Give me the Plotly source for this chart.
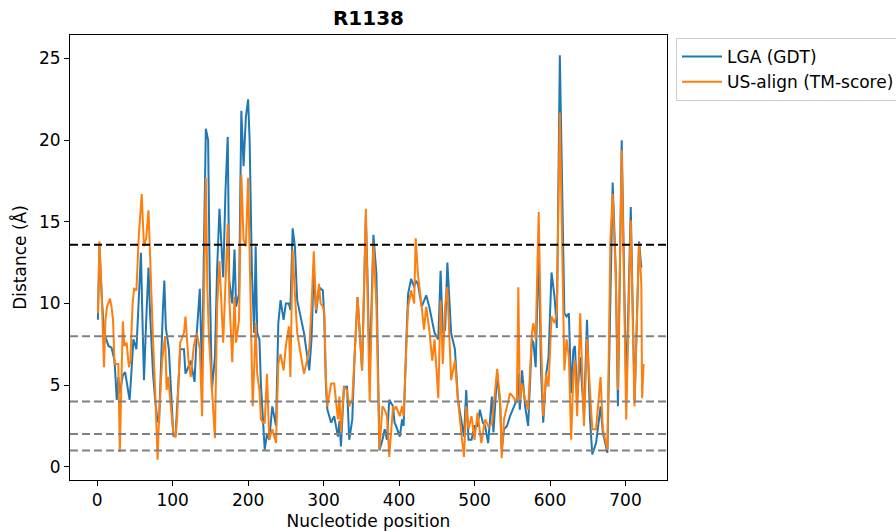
import plotly.graph_objects as go

title_text = "R1138"
x_label = "Nucleotide position"
y_label = "Distance (Å)"
lga_name = "LGA (GDT)"
us_name = "US-align (TM-score)"

lga_pos = [1, 3, 6, 9, 12, 15, 19, 23, 26, 28, 30, 34, 37, 40, 43, 45, 48, 52, 55, 58, 60, 62, 65, 68, 70, 74, 77, 80, 82, 84, 87, 89, 91, 95, 98,
           101, 104, 106, 110, 115, 117, 119, 124, 129, 132, 136, 139, 141, 144, 147, 149, 152, 156, 159, 162, 167, 170, 173, 175, 179, 182, 184, 188, 191, 194, 197, 200,
           202, 205, 208, 210, 212, 215, 217, 220, 222, 225, 228, 232, 237, 240, 243, 247, 250, 254, 256, 259, 262, 265, 270, 274, 281, 284, 287, 290, 294, 299,
           301, 303, 305, 310, 314, 319, 321, 323, 327, 331, 334, 338, 341, 345, 351, 356, 358, 361, 363, 366, 370, 374, 378, 381, 384, 387, 392, 394, 396,
           401, 404, 406, 410, 412, 416, 420, 422, 425, 430, 433, 436, 440, 444, 447, 452, 455, 458, 461, 464, 469, 474, 478, 483, 486, 489, 492, 496,
           500, 504, 507, 511, 514, 518, 523, 525, 530, 534, 536, 539, 543, 547, 551, 556, 558, 560, 563, 567, 571, 576, 578, 581, 585, 588, 591, 595, 598,
           602, 606, 609, 613, 616, 619, 622, 625, 628, 631, 633, 636, 640, 645, 649, 653, 656, 661, 667, 670, 676, 680, 683, 687, 690, 695,
           701, 707, 712, 718, 721]
lga_dist = [9.0, 13.5, 10.5, 8.2, 7.8, 7.4, 7.3, 6.5, 4.1, 5.5, 4.5, 5.6, 5.8, 4.8, 4.1, 5.5, 7.8, 7.2, 10.5, 13.1, 9.0, 5.3, 9.0, 12.2, 9.5, 5.7, 4.0, 2.8, 2.7, 6.0, 9.5, 11.4, 8.5, 7.2, 4.0,
            1.85, 2.0, 4.0, 7.2, 7.2, 5.7, 5.9, 6.5, 5.2, 8.2, 10.9, 5.5, 12.0, 20.7, 20.0, 12.0, 4.7, 6.7, 12.2, 15.8, 11.6, 16.9, 20.2, 11.4, 10.0, 13.3, 9.8, 10.6, 21.8, 18.4, 21.4, 22.5,
            20.0, 12.0, 8.2, 13.5, 8.2, 7.8, 5.0, 2.5, 1.05, 2.0, 1.65, 3.7, 2.5, 8.8, 10.2, 9.0, 10.0, 10.0, 9.6, 14.6, 13.5, 10.2, 9.2, 8.2, 5.9, 7.8, 12.2, 9.4, 11.0, 10.8,
            9.0, 5.0, 3.5, 2.7, 3.1, 1.85, 2.8, 1.25, 4.9, 4.9, 1.65, 2.9, 6.7, 10.4, 5.9, 15.3, 12.0, 5.7, 9.0, 14.2, 11.8, 1.0, 1.65, 2.3, 1.65, 4.1, 3.7, 2.7, 2.5,
            1.85, 2.9, 2.5, 8.2, 10.6, 11.5, 11.0, 11.4, 11.2, 9.8, 10.2, 10.5, 9.8, 8.8, 8.2, 7.8, 12.0, 8.2, 8.4, 12.5, 8.2, 7.2, 4.1, 2.7, 1.85, 4.7, 1.65, 1.65,
            2.5, 2.5, 3.5, 2.7, 2.5, 1.45, 4.3, 2.1, 5.7, 3.7, 1.04, 2.3, 2.5, 3.1, 3.5, 4.1, 5.7, 3.5, 5.9, 3.7, 2.5, 7.8, 7.6, 6.1, 13.5, 6.0, 2.7, 5.7, 6.7,
            11.9, 10.4, 8.5, 25.2, 17.9, 9.4, 9.2, 9.4, 4.5, 7.2, 7.4, 4.3, 6.7, 3.1, 9.0, 2.9, 0.75, 1.45, 3.7, 2.1, 0.85, 11.8, 17.4, 12.2, 3.7, 20.0,
            4.5, 15.9, 3.9, 13.8, 12.2]

us_pos = [1, 3, 6, 9, 11, 13, 17, 19, 21, 23, 28, 30, 34, 36, 39, 42, 44, 47, 49, 52, 55, 59, 62, 65, 68, 71, 74, 77, 80, 82, 86, 90, 92, 94, 99,
          101, 104, 106, 110, 115, 117, 119, 121, 124, 128, 132, 136, 139, 141, 144, 146, 148, 152, 156, 159, 162, 167, 170, 173, 175, 179, 182, 184, 188, 191, 194, 197, 200,
          202, 206, 208, 210, 212, 215, 217, 220, 222, 225, 228, 232, 237, 240, 243, 247, 250, 254, 256, 259, 262, 265, 270, 274, 278, 281, 284, 287, 290, 292, 294, 296, 299,
          301, 303, 305, 310, 314, 319, 321, 323, 327, 331, 334, 338, 341, 345, 351, 356, 361, 363, 366, 370, 374, 378, 381, 384, 387, 392, 394, 396,
          401, 404, 406, 410, 412, 416, 420, 422, 425, 430, 433, 436, 440, 444, 447, 452, 455, 458, 461, 464, 469, 474, 478, 483, 486, 489, 492, 496,
          500, 504, 507, 509, 514, 518, 523, 525, 530, 534, 536, 539, 543, 547, 551, 556, 558, 560, 563, 567, 571, 576, 578, 581, 585, 588, 591, 595, 598,
          602, 606, 609, 613, 616, 619, 622, 625, 628, 631, 633, 636, 640, 645, 649, 653, 656, 661, 667, 670, 676, 680, 683, 687, 690, 695,
          701, 707, 712, 718, 721, 722, 724]
us_dist = [9.4, 13.8, 10.5, 6.1, 9.0, 9.8, 10.3, 9.8, 9.0, 6.3, 6.3, 0.9, 8.9, 7.4, 7.6, 6.1, 6.5, 10.0, 10.9, 10.8, 14.0, 16.7, 13.5, 14.0, 15.7, 11.0, 7.8, 4.5, 0.43, 3.0, 6.5, 8.0, 4.7, 5.5, 2.7,
           2.0, 1.8, 3.1, 7.6, 8.2, 9.2, 7.8, 6.5, 5.5, 7.4, 8.2, 7.2, 3.1, 9.0, 17.7, 11.0, 8.0, 4.8, 1.75, 9.8, 12.6, 7.6, 11.8, 14.9, 10.4, 6.4, 10.4, 7.6, 9.0, 17.9, 13.9, 13.5, 17.7,
           13.5, 3.7, 6.0, 8.8, 5.7, 4.7, 2.9, 2.7, 2.7, 5.7, 1.65, 2.3, 1.45, 6.3, 6.9, 5.9, 7.4, 8.6, 5.5, 13.3, 10.6, 8.2, 6.8, 5.7, 6.5, 7.2, 9.8, 13.2, 9.6, 10.5, 11.2, 10.0, 9.8,
           9.4, 5.5, 3.7, 5.1, 5.1, 2.9, 4.3, 2.1, 4.9, 4.7, 3.7, 4.1, 6.7, 10.4, 5.9, 15.8, 4.0, 8.0, 13.7, 9.8, 1.05, 3.7, 3.5, 3.1, 0.6, 3.7, 3.5, 3.7,
           3.1, 3.7, 3.1, 7.8, 9.8, 10.8, 10.0, 14.0, 11.8, 9.8, 8.4, 9.8, 8.4, 6.5, 7.8, 4.2, 10.2, 6.3, 9.8, 11.0, 5.3, 6.5, 4.1, 1.85, 0.6, 3.7, 2.3, 3.1,
           1.65, 3.3, 2.1, 1.45, 2.9, 2.5, 2.6, 3.5, 6.0, 4.1, 0.53, 2.9, 3.7, 4.5, 4.3, 3.9, 11.0, 4.1, 5.1, 4.1, 3.5, 8.2, 8.8, 7.8, 15.6, 8.0, 3.1, 5.7, 4.9,
           9.2, 8.8, 9.4, 21.7, 14.9, 5.9, 7.8, 6.7, 1.65, 5.7, 6.5, 3.1, 9.4, 2.5, 7.8, 4.5, 2.3, 2.3, 5.5, 2.3, 1.04, 13.9, 16.7, 11.8, 4.7, 19.4,
           2.9, 15.1, 3.7, 13.7, 11.2, 4.2, 6.3]

threshold_black = [13.6]
thresholds_gray = [8, 4, 2, 1]
x_ticks = [0, 100, 200, 300, 400, 500, 600, 700]
y_ticks = [0, 5, 10, 15, 20, 25]

FONT = "DejaVu Sans"
L, R, T, B = 70, 667, 35, 480
W, H = 912, 531  # legend runs past the 896-px window edge, as in the reference

fig = go.Figure()
fig.add_trace(go.Scatter(x=lga_pos, y=lga_dist, mode="lines", name=lga_name,
                         line=dict(color="#1f77b4", width=2)))
fig.add_trace(go.Scatter(x=us_pos, y=us_dist, mode="lines", name=us_name,
                         line=dict(color="#ff7f0e", width=2)))

for t in threshold_black:
    fig.add_shape(type="line", xref="paper", x0=0, x1=1, yref="y", y0=t, y1=t,
                  line=dict(color="black", width=2, dash="8px,4px"), layer="above")
for t in thresholds_gray:
    fig.add_shape(type="line", xref="paper", x0=0, x1=1, yref="y", y0=t, y1=t,
                  line=dict(color="#808080", width=2, dash="8px,4px"), layer="above")

fig.update_layout(
    width=W, height=H,
    margin=dict(l=L, r=W - R, t=T, b=H - B, pad=0),
    paper_bgcolor="white", plot_bgcolor="white",
    font=dict(family=FONT, size=17, color="black"),
    title=dict(text="<b>" + title_text + "</b>", x=(L + R) / 2 / W, xanchor="center",
               y=1 - 18 / H, yanchor="middle", font=dict(size=20, family=FONT)),
    showlegend=True,
    legend=dict(x=1 + 9 / (R - L), xanchor="left", y=1 - 3 / (B - T), yanchor="top",
                bordercolor="#cccccc", borderwidth=1, bgcolor="white", itemwidth=40,
                font=dict(size=17, family=FONT), tracegroupgap=0),
    xaxis=dict(range=[-36, 755], tickvals=x_ticks, ticks="outside", ticklen=5, tickwidth=1,
               tickcolor="black", showline=True, linecolor="black", linewidth=1, mirror=True,
               showgrid=False, zeroline=False, automargin=False, tickfont=dict(size=17),
               title=dict(text=x_label, standoff=6, font=dict(size=17))),
    yaxis=dict(range=[-0.81, 26.44], tickvals=y_ticks, ticks="outside", ticklen=5, tickwidth=1,
               tickcolor="black", showline=True, linecolor="black", linewidth=1, mirror=True,
               showgrid=False, zeroline=False, automargin=False, tickfont=dict(size=17),
               title=dict(text=y_label, standoff=8, font=dict(size=17))),
)

fig.write_html(
    "out.html",
    config={"displayModeBar": False},
    post_script="document.documentElement.style.overflow='hidden';"
                "document.body.style.overflow='hidden';"
                "document.body.style.margin='0';document.body.style.padding='0';",
)
